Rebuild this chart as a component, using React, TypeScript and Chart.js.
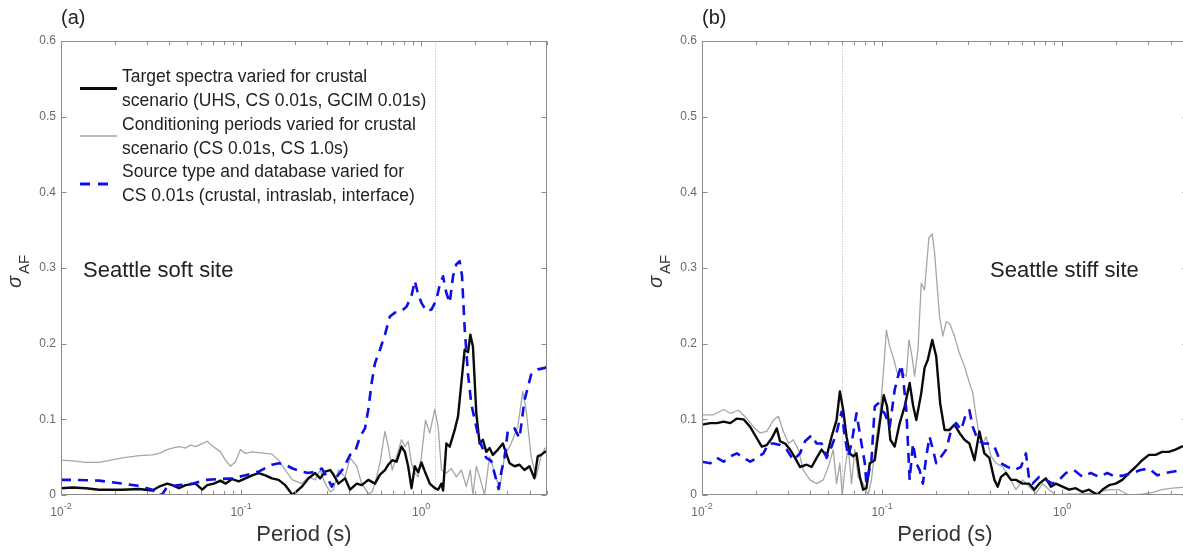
import React, { useEffect, useRef } from 'react';
import { Chart, registerables } from 'chart.js';

Chart.register(...registerables);

// ---------- Panel (a): Seattle soft site ----------
const softBlackT = [0.01,0.0116,0.01375,0.0163,0.02194,0.02714,0.03217,0.03502,0.03894,0.04152,
0.04519,0.0492,0.05588,0.06085,0.06484,0.0706,0.07685,0.08191,0.08918,0.09707,
0.1057,0.1151,0.1253,0.1364,0.1485,0.1616,0.176,0.1932,0.2176,0.2369,
0.2579,0.2749,0.293,0.3123,0.3259,0.3473,0.3781,0.403,0.4388,0.4674,
0.5089,0.554,0.5905,0.6295,0.6568,0.6911,0.7304,0.7783,0.8121,0.8472,
0.884,0.9224,0.9625,1.004,1.057,1.117,1.19,1.242,1.296,1.324,
1.381,1.441,1.536,1.603,1.672,1.745,1.821,1.876,1.94,2.025,
2.112,2.204,2.3,2.399,2.503,2.669,2.844,2.968,3.097,3.3,
3.517,3.748,3.995,4.258,4.442,4.635,4.877,5.0];
const softBlackV = [0.009,0.010,0.009,0.007,0.007,0.008,0.006,0.011,0.015,0.013,
0.009,0.013,0.015,0.007,0.013,0.015,0.019,0.015,0.021,0.018,
0.022,0.026,0.029,0.026,0.022,0.020,0.013,0.000,0.011,0.022,
0.029,0.022,0.031,0.033,0.027,0.015,0.022,0.007,0.015,0.013,
0.020,0.015,0.027,0.033,0.040,0.046,0.044,0.064,0.057,0.038,
0.009,0.038,0.030,0.043,0.029,0.015,0.009,0.007,0.015,0.006,
0.068,0.064,0.086,0.104,0.148,0.192,0.189,0.212,0.196,0.108,
0.068,0.073,0.057,0.062,0.053,0.060,0.068,0.055,0.042,0.038,
0.040,0.033,0.038,0.022,0.051,0.053,0.057,0.058];

const softGrayT = [0.01,0.0116,0.01375,0.0163,0.02194,0.02714,0.03217,0.03502,0.03894,0.04152,
0.04519,0.0492,0.05243,0.05588,0.06085,0.06484,0.06911,0.07685,0.08191,0.0873,
0.09305,0.09916,0.1057,0.1151,0.1253,0.1485,0.1616,0.176,0.1932,0.2176,
0.2369,0.2579,0.2749,0.293,0.3123,0.3259,0.3473,0.3781,0.403,0.4388,
0.4674,0.5089,0.531,0.554,0.5905,0.6295,0.6568,0.6911,0.7304,0.7783,
0.8121,0.8472,0.884,0.9224,0.9625,1.004,1.057,1.117,1.19,1.242,
1.296,1.381,1.472,1.569,1.672,1.782,1.876,1.94,2.025,2.112,
2.251,2.399,2.557,2.726,2.905,3.162,3.443,3.67,3.828,4.08,
4.349,4.635,4.877,5.0];
const softGrayV = [0.046,0.045,0.043,0.043,0.049,0.052,0.053,0.055,0.060,0.062,
0.064,0.062,0.066,0.064,0.068,0.071,0.065,0.057,0.046,0.038,
0.044,0.060,0.055,0.057,0.056,0.054,0.046,0.033,0.020,0.015,
0.024,0.020,0.033,0.015,0.004,0.007,0.033,0.024,0.049,0.038,
0.015,0.002,0.003,0.015,0.042,0.084,0.064,0.033,0.051,0.073,
0.064,0.071,0.042,0.029,0.024,0.051,0.099,0.082,0.113,0.091,
0.033,0.029,0.035,0.024,0.033,0.011,0.033,0.000,0.038,0.024,
0.000,0.051,0.030,0.007,0.051,0.068,0.091,0.137,0.113,0.051,
0.024,0.051,0.062,0.062];

const softBlueT = [0.01,0.0116,0.0163,0.02194,0.02714,0.03217,0.03428,0.03654,0.03894,0.04519,
0.05356,0.06348,0.07525,0.08918,0.1057,0.1253,0.1485,0.1616,0.176,0.1932,
0.2176,0.2369,0.2579,0.2808,0.2992,0.319,0.34,0.37,0.403,0.4295,
0.4577,0.4877,0.5089,0.531,0.554,0.5905,0.6295,0.6708,0.7148,0.7783,
0.8296,0.884,0.9224,0.9625,1.004,1.07,1.141,1.216,1.269,1.324,
1.381,1.441,1.503,1.569,1.637,1.686,1.745,1.821,1.9,1.982,
2.068,2.158,2.3,2.451,2.612,2.691,2.785,2.905,3.031,3.3,
3.517,3.748,4.08,4.442,4.877,5.0];
const softBlueV = [0.020,0.020,0.019,0.015,0.012,0.007,0.000,0.001,0.011,0.013,
0.015,0.020,0.021,0.022,0.026,0.031,0.040,0.042,0.040,0.035,
0.031,0.029,0.031,0.035,0.024,0.011,0.024,0.035,0.053,0.057,
0.077,0.088,0.113,0.148,0.174,0.192,0.212,0.236,0.241,0.243,
0.249,0.263,0.283,0.265,0.254,0.243,0.245,0.258,0.278,0.289,
0.267,0.254,0.289,0.305,0.309,0.290,0.220,0.160,0.120,0.100,
0.080,0.066,0.049,0.045,0.020,0.008,0.030,0.050,0.085,0.088,
0.075,0.125,0.159,0.166,0.168,0.170];

// ---------- Panel (b): Seattle stiff site ----------
const stiffBlackT = [0.01,0.01112,0.01211,0.01318,0.01435,0.01562,0.01701,0.01851,0.02016,0.02148,
0.0229,0.02441,0.02601,0.02714,0.02893,0.03083,0.03287,0.03502,0.03813,0.04064,
0.04331,0.04616,0.0492,0.05243,0.05588,0.05831,0.06085,0.06348,0.06623,0.06911,
0.07211,0.07525,0.07851,0.08191,0.08547,0.0911,0.09707,0.1021,0.1066,0.1112,
0.1175,0.1253,0.1335,0.1423,0.1485,0.1549,0.1651,0.1722,0.1797,0.1899,
0.1999,0.2103,0.2223,0.2369,0.2525,0.2691,0.2869,0.3056,0.3259,0.3473,
0.37,0.3944,0.4205,0.4388,0.4577,0.4877,0.5197,0.554,0.6031,0.6568,
0.6998,0.7458,0.8121,0.8655,0.9224,1.004,1.093,1.19,1.296,1.411,
1.569,1.672,1.821,1.982,2.158,2.349,2.557,2.785,3.031,3.3,
3.593,3.911,4.258,4.616,5.0];
const stiffBlackV = [0.093,0.095,0.095,0.097,0.095,0.101,0.100,0.090,0.075,0.064,
0.066,0.075,0.088,0.071,0.068,0.060,0.049,0.037,0.040,0.037,
0.049,0.060,0.051,0.077,0.099,0.137,0.112,0.077,0.055,0.051,
0.055,0.024,0.007,0.009,0.042,0.046,0.095,0.132,0.117,0.073,
0.064,0.095,0.117,0.148,0.119,0.099,0.135,0.168,0.179,0.205,
0.183,0.121,0.086,0.086,0.093,0.082,0.073,0.068,0.046,0.084,
0.055,0.049,0.020,0.011,0.024,0.029,0.020,0.020,0.015,0.015,
0.007,0.015,0.022,0.011,0.015,0.011,0.007,0.009,0.004,0.007,
0.000,0.007,0.013,0.015,0.020,0.029,0.037,0.046,0.053,0.053,
0.057,0.057,0.060,0.064,0.066];

const stiffGrayT = [0.01,0.0116,0.01318,0.01435,0.01596,0.01775,0.01932,0.02103,0.0229,0.02493,
0.02657,0.02831,0.03018,0.03217,0.03428,0.03654,0.03978,0.04331,0.04715,0.05025,
0.05356,0.05588,0.05831,0.06007,0.06214,0.06484,0.06766,0.0706,0.07367,0.07851,
0.08367,0.0873,0.09305,0.09707,0.1013,0.1057,0.1103,0.1151,0.1227,0.1307,
0.1364,0.1411,0.1466,0.1516,0.1582,0.1651,0.1722,0.182,0.1899,0.1957,
0.2085,0.2176,0.2271,0.2369,0.2525,0.2691,0.2869,0.3056,0.319,0.3328,
0.3473,0.3622,0.3781,0.403,0.4295,0.4674,0.5089,0.554,0.6031,0.6568,
0.7148,0.7783,0.8472,0.9224,1.048,1.242,1.411,1.603,1.821,2.068,
2.349,2.785,3.162,3.593,4.08,4.616,5.0];
const stiffGrayV = [0.106,0.106,0.113,0.108,0.112,0.101,0.090,0.082,0.084,0.099,
0.104,0.084,0.068,0.073,0.060,0.033,0.020,0.015,0.020,0.037,
0.060,0.015,0.042,0.000,0.033,0.064,0.015,0.060,0.024,0.015,
0.000,0.020,0.077,0.104,0.157,0.218,0.196,0.183,0.157,0.161,
0.157,0.205,0.183,0.157,0.192,0.280,0.271,0.340,0.345,0.320,
0.236,0.210,0.229,0.227,0.210,0.187,0.170,0.148,0.135,0.104,
0.077,0.068,0.077,0.051,0.042,0.037,0.024,0.007,0.020,0.011,
0.002,0.015,0.007,0.000,0.001,0.001,0.002,0.004,0.007,0.007,
0.000,0.001,0.003,0.007,0.009,0.010,0.010];

const stiffBlueT = [0.01,0.01112,0.01211,0.01318,0.01435,0.01562,0.01701,0.01851,0.02016,0.02194,
0.02339,0.02493,0.02714,0.02954,0.03217,0.03502,0.03733,0.04064,0.04331,0.04616,
0.0492,0.05243,0.05588,0.05956,0.06214,0.06484,0.06766,0.07211,0.07685,0.0802,
0.08191,0.0873,0.0911,0.09505,0.09916,0.1034,0.1103,0.1175,0.1227,0.128,
0.1318,0.1364,0.1423,0.1485,0.1549,0.1616,0.1686,0.176,0.1836,0.1916,
0.1999,0.213,0.2271,0.242,0.2579,0.2749,0.293,0.3056,0.319,0.34,
0.3622,0.3861,0.4205,0.4577,0.4982,0.5424,0.5905,0.6295,0.6568,0.6852,
0.7458,0.8121,0.884,0.9625,1.048,1.165,1.296,1.441,1.603,1.782,
1.982,2.204,2.451,2.726,3.031,3.371,3.748,4.168,4.616,5.0];
const stiffBlueV = [0.044,0.042,0.049,0.044,0.051,0.055,0.049,0.044,0.049,0.055,
0.068,0.068,0.066,0.060,0.046,0.055,0.071,0.079,0.068,0.068,
0.049,0.064,0.082,0.110,0.077,0.051,0.068,0.108,0.068,0.042,
0.015,0.046,0.117,0.121,0.112,0.108,0.090,0.139,0.157,0.172,
0.148,0.112,0.020,0.068,0.042,0.033,0.015,0.051,0.077,0.060,
0.042,0.051,0.060,0.086,0.095,0.086,0.108,0.112,0.090,0.073,
0.068,0.068,0.064,0.042,0.037,0.033,0.037,0.055,0.020,0.015,
0.024,0.020,0.015,0.020,0.029,0.033,0.024,0.029,0.024,0.029,
0.024,0.026,0.029,0.033,0.035,0.026,0.029,0.031,0.033,0.034];

// ---------- Axes / labels ----------
const yTicks = [0, 0.1, 0.2, 0.3, 0.4, 0.5, 0.6];
const yTickLabels = ['0', '0.1', '0.2', '0.3', '0.4', '0.5', '0.6'];
const xTickValues = [0.01,0.02,0.03,0.04,0.05,0.06,0.07,0.08,0.09,0.1,0.2,0.3,0.4,0.5,0.6,0.7,0.8,0.9,1,2,3,4,5];
const xDecades = [0.01, 0.1, 1];
const xDecadeExps = ['-2', '-1', '0'];
const xTitle = 'Period (s)';
const legendText = [
  ['Target spectra varied for crustal', 'scenario (UHS, CS 0.01s, GCIM 0.01s)'],
  ['Conditioning periods varied for crustal', 'scenario (CS 0.01s, CS 1.0s)'],
  ['Source type and database varied for', 'CS 0.01s (crustal, intraslab, interface)'],
];

const FONT = '"Liberation Sans", Arial, Helvetica, sans-serif';
const BLACK = '#0a0a0a';
const GRAY = '#a6a6a6';
const BLUE = '#0f0fe3';

type Series = { T: number[]; V: number[]; color: string; width: number; dash?: number[] };
type PanelProps = {
  left: number;
  tag: string;
  site: string;
  siteX: number;
  vline: number;
  legend: boolean;
  series: Series[];
};

function makeOverlay(p: PanelProps) {
  return {
    id: 'overlay',
    beforeDatasetsDraw(chart: any) {
      const { ctx, chartArea: a } = chart;
      const px = Math.round(chart.scales.x.getPixelForValue(p.vline)) + 0.5;
      ctx.save();
      ctx.strokeStyle = '#b8b8b8';
      ctx.lineWidth = 1;
      ctx.setLineDash([1, 1.5]);
      ctx.beginPath();
      ctx.moveTo(px, a.top);
      ctx.lineTo(px, a.bottom);
      ctx.stroke();
      ctx.restore();
    },
    afterDraw(chart: any) {
      const { ctx, chartArea: a } = chart;
      const xs = chart.scales.x;
      const ys = chart.scales.y;
      ctx.save();
      // box
      const L = Math.round(a.left) + 0.5;
      const R = Math.round(a.right) - 0.5;
      const T = Math.round(a.top) + 0.5;
      const B = Math.round(a.bottom) - 0.5;
      ctx.strokeStyle = '#8c8c8c';
      ctx.lineWidth = 1;
      ctx.strokeRect(L, T, R - L, B - T);
      ctx.beginPath();
      xTickValues.forEach((v) => {
        const px = Math.round(xs.getPixelForValue(v)) + 0.5;
        const len = xDecades.includes(v) ? 5 : 3.5;
        ctx.moveTo(px, B); ctx.lineTo(px, B - len);
        ctx.moveTo(px, T); ctx.lineTo(px, T + len);
      });
      yTicks.forEach((v) => {
        const py = Math.round(ys.getPixelForValue(v)) + 0.5;
        ctx.moveTo(L, py); ctx.lineTo(L + 5, py);
        ctx.moveTo(R, py); ctx.lineTo(R - 5, py);
      });
      ctx.stroke();

      // y tick labels
      ctx.fillStyle = '#6a6a6a';
      ctx.font = `12px ${FONT}`;
      ctx.textAlign = 'right';
      ctx.textBaseline = 'middle';
      yTicks.forEach((v, i) => ctx.fillText(yTickLabels[i], a.left - 5, ys.getPixelForValue(v)));

      // x tick labels (10^n)
      ctx.textAlign = 'left';
      ctx.textBaseline = 'alphabetic';
      xDecades.forEach((v, i) => {
        const px = xs.getPixelForValue(v);
        ctx.font = `12px ${FONT}`;
        const w1 = ctx.measureText('10').width;
        ctx.font = `9px ${FONT}`;
        const w2 = ctx.measureText(xDecadeExps[i]).width;
        const start = px - (w1 + w2) / 2;
        ctx.font = `12px ${FONT}`;
        ctx.fillText('10', start, 516);
        ctx.font = `9px ${FONT}`;
        ctx.fillText(xDecadeExps[i], start + w1, 509);
      });

      // x title
      ctx.fillStyle = '#333333';
      ctx.font = `22px ${FONT}`;
      ctx.textAlign = 'center';
      ctx.textBaseline = 'middle';
      ctx.fillText(xTitle, (a.left + a.right) / 2, 535);

      // y title sigma_AF
      ctx.save();
      ctx.translate(21, 288);
      ctx.rotate(-Math.PI / 2);
      ctx.textAlign = 'left';
      ctx.textBaseline = 'alphabetic';
      ctx.font = `italic 20px ${FONT}`;
      ctx.fillText('σ', 0, 0);
      const sw = ctx.measureText('σ').width;
      ctx.font = `15px ${FONT}`;
      ctx.fillText('AF', sw + 2, 8);
      ctx.restore();

      // panel tag
      ctx.fillStyle = '#222222';
      ctx.font = `20px ${FONT}`;
      ctx.textAlign = 'left';
      ctx.textBaseline = 'middle';
      ctx.fillText(p.tag, a.left, 18);

      // site label
      ctx.font = `22px ${FONT}`;
      ctx.fillText(p.site, p.siteX, 271);

      // legend
      if (p.legend) {
        ctx.font = `17.5px ${FONT}`;
        ctx.fillStyle = '#222222';
        legendText.forEach((pair, k) => {
          pair.forEach((line, j) => {
            ctx.fillText(line, 122, 77 + (k * 2 + j) * 23.9);
          });
        });
        const sampleY = [88.5, 136, 184];
        ctx.setLineDash([]);
        ctx.strokeStyle = BLACK; ctx.lineWidth = 3.2;
        ctx.beginPath(); ctx.moveTo(80, sampleY[0]); ctx.lineTo(117, sampleY[0]); ctx.stroke();
        ctx.strokeStyle = GRAY; ctx.lineWidth = 1.4;
        ctx.beginPath(); ctx.moveTo(80, sampleY[1]); ctx.lineTo(117, sampleY[1]); ctx.stroke();
        ctx.strokeStyle = BLUE; ctx.lineWidth = 3;
        ctx.setLineDash([10, 8]);
        ctx.beginPath(); ctx.moveTo(80, sampleY[2]); ctx.lineTo(110, sampleY[2]); ctx.stroke();
        ctx.setLineDash([]);
      }
      ctx.restore();
    },
  };
}

function Panel(p: PanelProps) {
  const ref = useRef<HTMLCanvasElement | null>(null);
  useEffect(() => {
    if (!ref.current) return;
    const chart = new Chart(ref.current, {
      type: 'line',
      data: {
        datasets: p.series.map((s) => ({
          data: s.T.map((t, i) => ({ x: t, y: s.V[i] })),
          borderColor: s.color,
          borderWidth: s.width,
          borderDash: s.dash || [],
          borderJoinStyle: 'round',
          pointRadius: 0,
          tension: 0,
          fill: false,
        })),
      } as any,
      options: {
        responsive: false,
        maintainAspectRatio: false,
        animation: false,
        devicePixelRatio: 1,
        events: [],
        layout: { padding: { top: 41, right: 53, left: 0, bottom: 0 } },
        plugins: { legend: { display: false }, tooltip: { enabled: false }, title: { display: false } },
        scales: {
          x: {
            type: 'logarithmic',
            min: 0.01,
            max: 5,
            grid: { display: false },
            border: { display: false },
            ticks: { display: false },
            afterFit: (s: any) => { s.height = 59; },
          },
          y: {
            type: 'linear',
            min: 0,
            max: 0.6,
            grid: { display: false },
            border: { display: false },
            ticks: { display: false },
            afterFit: (s: any) => { s.width = 61; },
          },
        },
      } as any,
      plugins: [makeOverlay(p)],
    });
    return () => chart.destroy();
  }, []);
  return (
    <div style={{ position: 'absolute', left: p.left, top: 0, width: 600, height: 554 }}>
      <canvas ref={ref} width={600} height={554} style={{ display: 'block', width: 600, height: 554 }} />
    </div>
  );
}

export default function App() {
  const softSeries: Series[] = [
    { T: softBlueT, V: softBlueV, color: BLUE, width: 2.6, dash: [10, 7] },
    { T: softBlackT, V: softBlackV, color: BLACK, width: 2.4 },
    { T: softGrayT, V: softGrayV, color: GRAY, width: 1.3 },
  ];
  const stiffSeries: Series[] = [
    { T: stiffBlueT, V: stiffBlueV, color: BLUE, width: 2.6, dash: [10, 7] },
    { T: stiffBlackT, V: stiffBlackV, color: BLACK, width: 2.4 },
    { T: stiffGrayT, V: stiffGrayV, color: GRAY, width: 1.3 },
  ];
  return (
    <div style={{ position: 'fixed', left: 0, top: 0, width: 1183, height: 554, overflow: 'hidden', background: '#ffffff' }}>
      <Panel left={0} tag="(a)" site="Seattle soft site" siteX={83} vline={1.2} legend={true} series={softSeries} />
      <Panel left={641} tag="(b)" site="Seattle stiff site" siteX={349} vline={0.06} legend={false} series={stiffSeries} />
    </div>
  );
}
